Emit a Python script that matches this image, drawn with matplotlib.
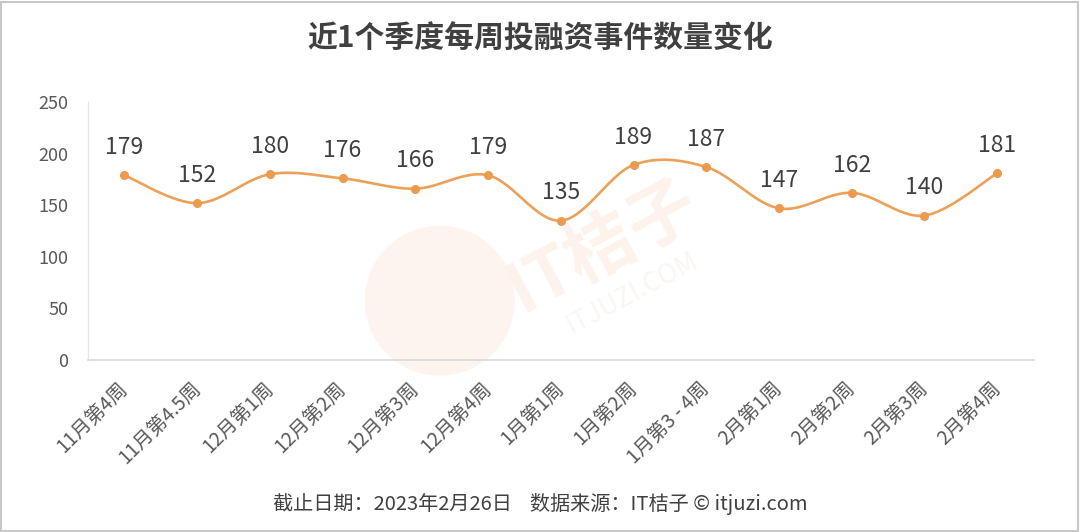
import numpy as np
import matplotlib
matplotlib.use("Agg")
import matplotlib.pyplot as plt
from matplotlib.patches import Ellipse, Rectangle

plt.rcParams['font.family'] = ['Noto Sans CJK SC', 'DejaVu Sans']

# data
weeks = ['11月第4周', '11月第4.5周', '12月第1周', '12月第2周', '12月第3周', '12月第4周',
         '1月第1周', '1月第2周', '1月第3 - 4周', '2月第1周', '2月第2周', '2月第3周', '2月第4周']
counts = [179, 152, 180, 176, 166, 179, 135, 189, 187, 147, 162, 140, 181]

title = '近1个季度每周投融资事件数量变化'
footer = '截止日期：2023年2月26日    数据来源：IT桔子 © itjuzi.com'

line_color = '#EDA057'
text_color = '#595959'


def smooth(xs, ys, n=30):
    # catmull-rom, like excel's smoothed line
    p = np.column_stack([xs, ys]).astype(float)
    p = np.vstack([p[0], p, p[-1]])
    out = []
    for i in range(1, len(p) - 2):
        p0, p1, p2, p3 = p[i - 1], p[i], p[i + 1], p[i + 2]
        t = np.linspace(0, 1, n)[:, None]
        seg = 0.5 * ((2 * p1) + (-p0 + p2) * t + (2 * p0 - 5 * p1 + 4 * p2 - p3) * t ** 2
                     + (-p0 + 3 * p1 - 3 * p2 + p3) * t ** 3)
        out.append(seg)
    out = np.vstack(out)
    return out[:, 0], out[:, 1]


fig = plt.figure(figsize=(10.8, 5.32), dpi=100)
fig.patch.set_facecolor('white')
# thin grey frame around the picture
fig.patches.append(Rectangle((0.001, 0.002), 0.997, 0.995, transform=fig.transFigure,
                             fill=False, edgecolor='#C8C8C8', linewidth=1.5))

ax = fig.add_axes([0.0815, 0.3233, 0.8755, 0.485])

# watermark (axes is 945 x 258 px)
ax.add_patch(Ellipse((0.372, 0.23), 150 / 945, 150 / 258, transform=ax.transAxes,
                     facecolor='#FEF4EF', edgecolor='none', zorder=0, clip_on=False))
ax.text(0.545, 0.44, 'IT桔子', transform=ax.transAxes, fontsize=50, color='#FEF2EC',
        rotation=28, ha='center', va='center', fontweight='bold', zorder=0)
ax.text(0.575, 0.26, 'ITJUZI.COM', transform=ax.transAxes, fontsize=19, color='#FCF5F1',
        rotation=28, ha='center', va='center', zorder=0)

x = np.arange(len(weeks))
sx, sy = smooth(x, counts)
ax.plot(sx, sy, color=line_color, linewidth=1.9, zorder=3)
ax.plot(x, counts, 'o', color='#EB9A4E', markersize=5.5, zorder=4)

for xi, v in zip(x, counts):
    ax.annotate(str(v), (xi, v), xytext=(0, 20), textcoords='offset points',
                ha='center', va='center', fontsize=16.5, color='#404040')

ax.set_xlim(-0.5, len(weeks) - 0.5)
ax.set_ylim(0, 250)
ax.set_yticks([0, 50, 100, 150, 200, 250])
ax.set_xticks(x)
ax.set_xticklabels(weeks, rotation=45, ha='right', va='center', rotation_mode='anchor')
ax.tick_params(axis='x', length=0, pad=18, labelsize=14, labelcolor=text_color)
ax.tick_params(axis='y', length=0, pad=14, labelsize=13, labelcolor=text_color)

for s in ['top', 'right']:
    ax.spines[s].set_visible(False)
ax.spines['left'].set_color('#E6E6E6')
ax.spines['bottom'].set_color('#D9D9D9')
ax.spines['left'].set_linewidth(1)
ax.spines['bottom'].set_linewidth(1.2)

fig.text(0.5, 0.928, title, ha='center', va='center', fontsize=21.5,
         fontweight='bold', color='#404040')
fig.text(0.5, 0.052, footer, ha='center', va='center', fontsize=14.5, color='#404040')

fig.savefig('out.png', dpi=100)
